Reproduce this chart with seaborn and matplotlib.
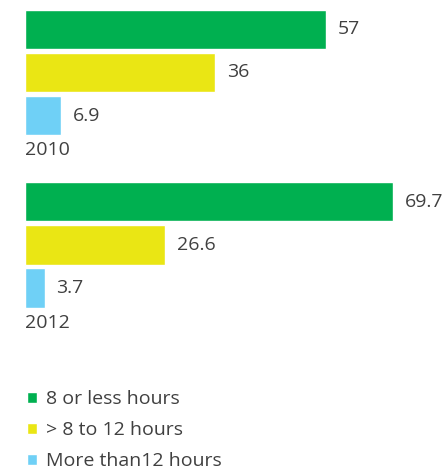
import pandas as pd
import matplotlib.pyplot as plt
import seaborn as sns

years = ['2010', '2012']
categories = ['8 or less hours', '> 8 to 12 hours', 'More than12 hours']
values_2010 = [57, 36, 6.9]
values_2012 = [69.7, 26.6, 3.7]
colors = ['#00B050', '#EAE614', '#6FD0F6']
text_color = '#404040'

rows = []
for year, vals in zip(years, [values_2010, values_2012]):
    for cat, v in zip(categories, vals):
        rows.append({'year': year, 'category': cat, 'value': v})
df = pd.DataFrame(rows)

sns.set_style('white')
plt.rcParams['font.family'] = ['Open Sans', 'DejaVu Sans']

fig = plt.figure(figsize=(4.43, 4.69), dpi=100)
ax = fig.add_axes([25 / 443, 124 / 469, 418 / 443, 345 / 469])

sns.barplot(data=df, y='year', x='value', hue='category', orient='h',
            palette=colors, width=0.75, gap=0.09, ax=ax, saturation=1)

for c in ax.containers:
    ax.bar_label(c, fmt='{:g}', padding=8.5, fontsize=14, color=text_color)

for i, year in enumerate(years):
    ax.text(0, i + 0.45, year, ha='left', va='center', fontsize=14, color=text_color)

ax.set_xlim(0, 79.2)
ax.set_ylim(1.58, -0.42)
ax.set_xticks([])
ax.set_yticks([])
ax.set_xlabel('')
ax.set_ylabel('')
sns.despine(ax=ax, left=True, bottom=True)

handles, labels = ax.get_legend_handles_labels()
ax.get_legend().remove()
fig.legend(handles, labels, loc='upper left', bbox_to_anchor=(27 / 443, 1 - 390 / 469),
           frameon=False, fontsize=14, labelcolor=text_color, borderaxespad=0, borderpad=0,
           handlelength=0.5, handleheight=0.5, handletextpad=0.5, labelspacing=0.68)

plt.savefig('out.png', dpi=100)
